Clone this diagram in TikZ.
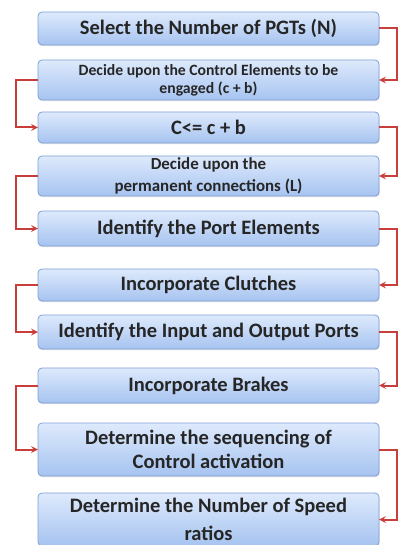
\documentclass[tikz,border=0pt]{standalone}
\usepackage{fontspec}
\setmainfont{Carlito}
\usetikzlibrary{arrows,positioning,shadows}

\definecolor{boxtop}{RGB}{222,234,252}
\definecolor{boxbot}{RGB}{166,195,240}
\definecolor{boxline}{RGB}{128,160,214}
\definecolor{linkred}{RGB}{200,62,58}

\begin{document}
\begin{tikzpicture}[
	x = 1pt, y = 1pt,
	> = stealth, % arrow head style
	node distance = 15pt, % distance between nodes
	stepbox/.style={rectangle, rounded corners=4pt, draw=boxline, line width=0.8pt,
		top color=boxtop, bottom color=boxbot, text=black!85,
		minimum width=341pt, inner sep=1pt, outer sep=0pt, align=center,
		drop shadow={opacity=0.25, shadow xshift=0.6pt, shadow yshift=-1.2pt}},
	big/.style={font=\bfseries\fontsize{20.5}{24}\selectfont},
	small/.style={font=\bfseries\fontsize{15.7}{18}\selectfont},
	link/.style={->, draw=linkred, line width=2pt},
	]
	\useasboundingbox (0,0) rectangle (398,-545);

	% Nodes and their relative positions
	\node[stepbox, big, minimum height=33pt] (B1) at (208.5,-28.5) {Select the Number of PGTs (N)};
	\node[stepbox, small, minimum height=40pt] (B2) [below = 15pt of B1] {Decide upon the Control Elements to be\\engaged (c + b)};
	\node[stepbox, big, minimum height=31pt] (B3) [below = 12pt of B2] {C<= c + b};
	\node[stepbox, minimum height=40pt, font=\bfseries\fontsize{16.9}{22}\selectfont] (B4) [below = 13pt of B3] {Decide upon the\\permanent connections (L)};
	\node[stepbox, big, minimum height=35pt] (B5) [below = 15pt of B4] {Identify the Port Elements};
	\node[stepbox, big, minimum height=32pt] (B6) [below = 23pt of B5] {Incorporate Clutches};
	\node[stepbox, big, minimum height=34pt] (B7) [below = 14pt of B6] {Identify the Input and Output Ports};
	\node[stepbox, big, minimum height=35pt] (B8) [below = 19pt of B7] {Incorporate Brakes};
	\node[stepbox, big, minimum height=53pt] (B9) [below = 20pt of B8] {Determine the sequencing of\\Control activation};
	\node[stepbox, minimum height=53pt, font=\bfseries\fontsize{20.5}{28}\selectfont] (B10) [below = 17pt of B9] {Determine the Number of Speed\\ratios};

	% side rails
	\coordinate (R) at (397,0);
	\coordinate (L) at (16,0);

	% Paths connecting nodes
	\draw[link] (B1.east) -- (B1.east -| R) |- (B2.east);
	\draw[link] (B2.west) -- (B2.west -| L) |- (B3.west);
	\draw[link] (B3.east) -- (B3.east -| R) |- (B4.east);
	\draw[link] (B4.west) -- (B4.west -| L) |- (B5.west);
	\draw[link] (B5.east) -- (B5.east -| R) |- (B6.east);
	\draw[link] (B6.west) -- (B6.west -| L) |- (B7.west);
	\draw[link] (B7.east) -- (B7.east -| R) |- (B8.east);
	\draw[link] (B8.west) -- (B8.west -| L) |- (B9.west);
	\draw[link] (B9.east) -- (B9.east -| R) |- (B10.east);

\end{tikzpicture}
\end{document}
